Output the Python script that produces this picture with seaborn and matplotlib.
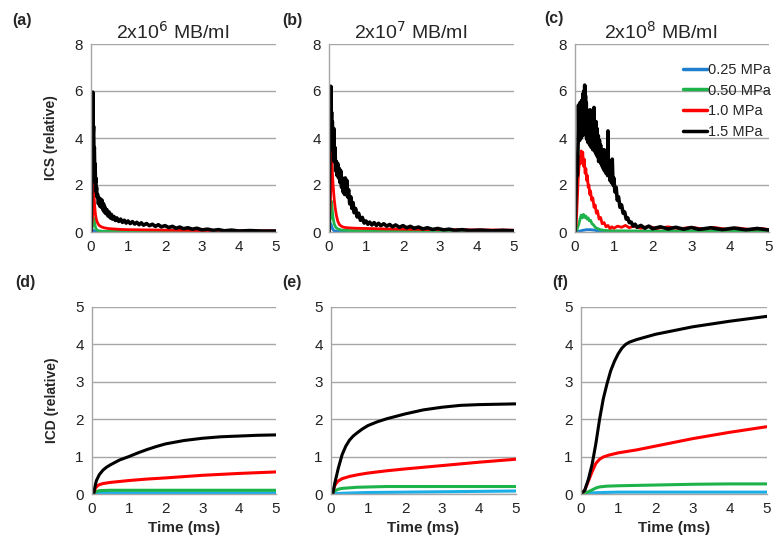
import pandas as pd
import matplotlib
matplotlib.use("Agg")
import matplotlib.pyplot as plt
import seaborn as sns

# -----------------------------
# DATA
# -----------------------------
pressures = ["0.25 MPa", "0.50 MPa", "1.0 MPa", "1.5 MPa"]
titles = ["2x10$^6$ MB/ml", "2x10$^7$ MB/ml", "2x10$^8$ MB/ml"]
panel_tags = ["(a)", "(b)", "(c)", "(d)", "(e)", "(f)"]

# ICS traces, (time ms, relative) pairs
a_blue = [(0, 0), (0.06, 0.08), (0.1, 0.03), (0.3, 0.01), (5, 0.01)]
a_green = [(0, 0), (0.05, 0.3), (0.08, 0.6), (0.10, 0.35), (0.13, 0.15), (0.18, 0.06), (0.3, 0.03), (1, 0.02), (5, 0.02)]
a_red = [(0, 0), (0.05, 0.8), (0.07, 2.05), (0.08, 1.6), (0.10, 1.1), (0.12, 0.75), (0.15, 0.5), (0.18, 0.38),
         (0.22, 0.28), (0.28, 0.22), (0.35, 0.18), (0.45, 0.15), (0.6, 0.13), (0.8, 0.11), (1.0, 0.1),
         (1.5, 0.09), (2.0, 0.08), (3.0, 0.06), (4.0, 0.05), (5.0, 0.05)]
a_black = [(0, 0), (0.03, 3.0), (0.05, 5.95), (0.06, 4.2), (0.07, 4.5), (0.08, 3.3), (0.09, 3.6), (0.10, 2.6),
           (0.11, 2.9), (0.12, 2.1), (0.13, 2.3), (0.14, 1.7), (0.15, 1.9), (0.16, 1.5), (0.18, 1.6), (0.20, 1.2),
           (0.22, 1.45), (0.24, 1.1), (0.26, 1.4), (0.28, 1.05), (0.30, 1.35), (0.32, 0.95), (0.34, 1.2),
           (0.36, 0.85), (0.38, 1.05), (0.40, 0.78), (0.43, 0.95), (0.46, 0.68), (0.49, 0.85), (0.52, 0.6),
           (0.55, 0.75), (0.58, 0.55), (0.62, 0.66), (0.66, 0.49), (0.70, 0.6), (0.75, 0.45), (0.80, 0.55),
           (0.85, 0.41), (0.90, 0.5), (0.95, 0.38), (1.00, 0.47), (1.06, 0.36), (1.12, 0.44), (1.18, 0.34),
           (1.24, 0.41), (1.30, 0.31), (1.36, 0.39), (1.42, 0.29), (1.50, 0.36), (1.58, 0.27), (1.66, 0.33),
           (1.74, 0.24), (1.82, 0.31), (1.90, 0.22), (2.00, 0.27), (2.10, 0.19), (2.20, 0.24), (2.30, 0.16),
           (2.40, 0.21), (2.50, 0.14), (2.62, 0.18), (2.74, 0.12), (2.86, 0.16), (3.00, 0.09), (3.15, 0.12),
           (3.30, 0.07), (3.45, 0.1), (3.60, 0.05), (3.80, 0.08), (4.00, 0.04), (4.30, 0.06), (4.60, 0.04),
           (5.00, 0.04)]

b_blue = [(0, 0), (0.05, 0.35), (0.07, 0.25), (0.1, 0.12), (0.14, 0.05), (0.2, 0.03), (0.4, 0.02), (5, 0.01)]
b_green = [(0, 0), (0.05, 0.8), (0.07, 1.3), (0.09, 0.9), (0.11, 0.6), (0.14, 0.35), (0.18, 0.2), (0.25, 0.12),
           (0.35, 0.08), (0.6, 0.06), (1.0, 0.05), (2, 0.04), (5, 0.03)]
b_red = [(0, 0), (0.04, 1.5), (0.07, 3.4), (0.09, 2.6), (0.11, 2.0), (0.14, 1.4), (0.17, 1.0), (0.20, 0.7),
         (0.24, 0.45), (0.28, 0.32), (0.33, 0.25), (0.4, 0.2), (0.5, 0.18), (0.7, 0.16), (1.0, 0.15),
         (1.5, 0.13), (2.0, 0.12), (3.0, 0.1), (4.0, 0.09), (5.0, 0.08)]
b_black = [(0, 0), (0.03, 4.5), (0.05, 6.2), (0.06, 4.6), (0.07, 5.1), (0.08, 3.8), (0.09, 4.7), (0.10, 3.5),
           (0.11, 4.3), (0.12, 3.6), (0.13, 4.4), (0.14, 3.0), (0.16, 3.6), (0.18, 2.6), (0.20, 3.0), (0.22, 2.4),
           (0.24, 2.9), (0.26, 2.3), (0.28, 2.7), (0.30, 2.1), (0.32, 2.6), (0.34, 1.9), (0.36, 2.3), (0.38, 1.7),
           (0.40, 2.1), (0.42, 1.6), (0.44, 2.3), (0.46, 1.7), (0.48, 2.2), (0.50, 1.5), (0.53, 1.8),
           (0.56, 1.2), (0.59, 1.5), (0.62, 1.0), (0.65, 1.25), (0.68, 0.82), (0.72, 1.0), (0.76, 0.64),
           (0.80, 0.8), (0.85, 0.5), (0.90, 0.62), (0.95, 0.38), (1.00, 0.47), (1.05, 0.33), (1.10, 0.42),
           (1.16, 0.3), (1.22, 0.4), (1.28, 0.28), (1.34, 0.37), (1.40, 0.27), (1.48, 0.35), (1.56, 0.25),
           (1.64, 0.32), (1.72, 0.22), (1.80, 0.3), (1.90, 0.2), (2.00, 0.27), (2.10, 0.18), (2.20, 0.24),
           (2.30, 0.16), (2.42, 0.21), (2.54, 0.13), (2.66, 0.18), (2.80, 0.11), (2.94, 0.15), (3.10, 0.09),
           (3.25, 0.12), (3.40, 0.07), (3.60, 0.1), (3.80, 0.06), (4.10, 0.08), (4.40, 0.05), (4.70, 0.07),
           (5.00, 0.05)]

c_blue = [(0, 0), (0.1, 0.03), (0.2, 0.07), (0.3, 0.1), (0.4, 0.1), (0.5, 0.08), (0.6, 0.04), (0.8, 0.02), (5, 0.01)]
c_green = [(0, 0), (0.05, 0.1), (0.10, 0.35), (0.13, 0.55), (0.16, 0.72), (0.19, 0.6), (0.22, 0.75), (0.25, 0.62),
           (0.28, 0.68), (0.31, 0.55), (0.34, 0.6), (0.37, 0.47), (0.40, 0.5), (0.44, 0.35), (0.48, 0.3),
           (0.52, 0.2), (0.58, 0.15), (0.65, 0.1), (0.75, 0.07), (1.0, 0.05), (2.0, 0.04), (5.0, 0.03)]
c_red = [(0, 0), (0.03, 0.3), (0.06, 1.4), (0.08, 2.2), (0.10, 2.7), (0.12, 3.2), (0.14, 2.9), (0.16, 3.45),
         (0.18, 3.0), (0.20, 3.4), (0.22, 2.8), (0.24, 3.1), (0.26, 2.5), (0.28, 2.7), (0.30, 2.2), (0.32, 2.4),
         (0.34, 1.9), (0.36, 2.0), (0.38, 1.6), (0.40, 1.75), (0.43, 1.35), (0.46, 1.45), (0.49, 1.05),
         (0.52, 1.15), (0.55, 0.8), (0.58, 0.9), (0.62, 0.55), (0.66, 0.62), (0.70, 0.35), (0.75, 0.4),
         (0.80, 0.22), (0.85, 0.28), (0.90, 0.15), (0.95, 0.22), (1.0, 0.16), (1.1, 0.25), (1.2, 0.2),
         (1.3, 0.28), (1.4, 0.18), (1.5, 0.25), (1.7, 0.16), (1.9, 0.24), (2.1, 0.15), (2.4, 0.22), (2.7, 0.14),
         (3.0, 0.2), (3.3, 0.13), (3.6, 0.19), (3.9, 0.12), (4.2, 0.17), (4.5, 0.11), (4.8, 0.15), (5.0, 0.1)]
c_black = [(0, 0), (0.02, 1.5), (0.04, 2.8), (0.06, 2.4), (0.08, 3.8), (0.09, 5.4), (0.10, 4.2), (0.11, 5.1),
           (0.12, 3.9), (0.13, 5.5), (0.14, 4.4), (0.15, 5.2), (0.16, 4.0), (0.17, 5.6), (0.18, 4.3), (0.19, 5.4),
           (0.20, 4.1), (0.21, 5.9), (0.22, 4.6), (0.23, 6.0), (0.24, 4.5), (0.25, 6.25), (0.26, 4.8), (0.27, 5.8),
           (0.28, 4.2), (0.29, 5.5), (0.30, 4.0), (0.31, 5.2), (0.32, 3.9), (0.33, 5.0), (0.34, 3.8), (0.35, 5.1),
           (0.36, 4.0), (0.37, 4.8), (0.38, 3.7), (0.39, 5.2), (0.40, 3.9), (0.41, 4.6), (0.42, 3.6), (0.43, 5.1),
           (0.44, 3.8), (0.45, 4.5), (0.46, 3.5), (0.47, 4.9), (0.48, 3.7), (0.49, 5.3), (0.50, 3.6), (0.51, 4.6),
           (0.52, 3.4), (0.54, 4.7), (0.55, 3.3), (0.57, 4.4), (0.58, 3.2), (0.60, 4.1), (0.61, 3.0), (0.63, 3.9),
           (0.64, 3.0), (0.66, 3.7), (0.67, 2.9), (0.69, 3.5), (0.70, 2.8), (0.72, 3.3), (0.73, 2.7), (0.75, 3.5),
           (0.76, 2.6), (0.78, 3.1), (0.80, 2.5), (0.82, 3.0), (0.84, 2.4), (0.85, 4.3), (0.86, 2.6), (0.88, 2.9),
           (0.90, 2.2), (0.92, 2.6), (0.94, 2.1), (0.96, 3.1), (0.98, 2.0), (1.00, 2.3), (1.03, 1.7), (1.06, 1.9),
           (1.09, 1.35), (1.12, 1.5), (1.16, 1.05), (1.20, 1.15), (1.24, 0.8), (1.28, 0.85), (1.32, 0.55),
           (1.36, 0.6), (1.40, 0.4), (1.45, 0.42), (1.50, 0.25), (1.55, 0.33), (1.60, 0.2), (1.70, 0.28),
           (1.80, 0.16), (1.90, 0.25), (2.0, 0.14), (2.2, 0.22), (2.4, 0.13), (2.6, 0.2), (2.8, 0.12), (3.0, 0.19),
           (3.2, 0.11), (3.5, 0.18), (3.8, 0.1), (4.1, 0.17), (4.4, 0.09), (4.7, 0.15), (5.0, 0.08)]

# ICD traces
d_blue = [(0, 0), (0.2, 0.03), (1, 0.03), (5, 0.03)]
d_green = [(0, 0), (0.1, 0.06), (0.2, 0.09), (0.5, 0.1), (5, 0.1)]
d_red = [(0, 0), (0.05, 0.05), (0.1, 0.17), (0.15, 0.22), (0.2, 0.25), (0.3, 0.28), (0.5, 0.31), (1.0, 0.36),
         (1.5, 0.4), (2.0, 0.43), (3.0, 0.5), (4.0, 0.55), (5.0, 0.59)]
d_black = [(0, 0), (0.05, 0.02), (0.08, 0.2), (0.12, 0.36), (0.2, 0.52), (0.3, 0.64), (0.4, 0.72), (0.5, 0.78),
           (0.75, 0.91), (1.0, 1.0), (1.25, 1.1), (1.5, 1.19), (1.75, 1.27), (2.0, 1.34), (2.5, 1.43),
           (3.0, 1.49), (3.5, 1.53), (4.0, 1.55), (4.5, 1.57), (5.0, 1.58)]

e_blue = [(0, 0), (0.3, 0.02), (1, 0.04), (3, 0.06), (5, 0.08)]
e_green = [(0, 0), (0.1, 0.08), (0.2, 0.13), (0.3, 0.15), (0.7, 0.18), (1.5, 0.2), (5, 0.2)]
e_red = [(0, 0), (0.05, 0.05), (0.1, 0.22), (0.15, 0.3), (0.2, 0.35), (0.3, 0.41), (0.5, 0.47), (0.75, 0.52),
         (1.0, 0.56), (1.5, 0.62), (2.0, 0.67), (3.0, 0.76), (4.0, 0.85), (5.0, 0.93)]
e_black = [(0, 0), (0.05, 0.02), (0.1, 0.28), (0.2, 0.7), (0.3, 1.05), (0.4, 1.28), (0.5, 1.44), (0.6, 1.55),
           (0.7, 1.63), (0.85, 1.74), (1.0, 1.83), (1.25, 1.93), (1.5, 2.01), (2.0, 2.14), (2.5, 2.25),
           (3.0, 2.32), (3.5, 2.37), (4.0, 2.39), (4.5, 2.4), (5.0, 2.41)]

f_blue = [(0, 0), (0.3, 0.03), (0.6, 0.04), (1, 0.05), (5, 0.05)]
f_green = [(0, 0), (0.2, 0.06), (0.3, 0.11), (0.4, 0.16), (0.5, 0.19), (0.7, 0.21), (1, 0.22), (2, 0.24),
           (3, 0.26), (4, 0.27), (5, 0.27)]
f_red = [(0, 0), (0.1, 0.1), (0.2, 0.35), (0.3, 0.6), (0.4, 0.82), (0.5, 0.93), (0.6, 0.99), (0.75, 1.04),
         (1.0, 1.1), (1.5, 1.18), (2.0, 1.28), (3.0, 1.48), (4.0, 1.65), (5.0, 1.8)]
f_black = [(0, 0), (0.1, 0.1), (0.2, 0.4), (0.3, 0.8), (0.4, 1.35), (0.5, 2.0), (0.6, 2.55), (0.7, 2.95),
           (0.8, 3.3), (0.9, 3.55), (1.0, 3.75), (1.1, 3.9), (1.2, 4.0), (1.3, 4.06), (1.5, 4.13), (2.0, 4.27),
           (3.0, 4.47), (4.0, 4.62), (5.0, 4.75)]

ics_sets = [[a_blue, a_green, a_red, a_black],
            [b_blue, b_green, b_red, b_black],
            [c_blue, c_green, c_red, c_black]]
icd_sets = [[d_blue, d_green, d_red, d_black],
            [e_blue, e_green, e_red, e_black],
            [f_blue, f_green, f_red, f_black]]


def to_frame(series):
    rows = []
    for name, pts in zip(pressures, series):
        for t, v in pts:
            rows.append({"time": t, "value": v, "pressure": name})
    return pd.DataFrame(rows)


# -----------------------------
# STYLE
# -----------------------------
sns.set_style("white")
plt.rcParams['font.family'] = ['Liberation Sans', 'DejaVu Sans']

top_colors = ["#1f7fcf", "#1db34a", "#ff0000", "#000000"]
bot_colors = ["#1aaee8", "#1db34a", "#ff0000", "#000000"]
grid_col = "#a6a6a6"

fig = plt.figure(figsize=(7.75, 5.42), dpi=100)
W, H = 775.0, 542.0

# axes boxes in pixels: left, right, top, bottom
top_boxes = [(91, 276, 44, 232), (329, 514, 44, 232), (575, 769, 44, 232)]
bot_boxes = [(92, 276, 307, 494), (331, 516, 307, 494), (581, 767, 307, 494)]


def make_ax(box):
    l, r, t, b = box
    return fig.add_axes([l / W, 1 - b / H, (r - l) / W, (b - t) / H])


def style_ax(ax, ymax, ystep):
    ax.set_xlim(0, 5)
    ax.set_ylim(0, ymax)
    ax.set_xticks(range(0, 6))
    ax.set_yticks(range(0, ymax + 1, ystep))
    ax.yaxis.grid(True, color=grid_col, linewidth=1)
    ax.set_axisbelow(True)
    for s in ["top", "right"]:
        ax.spines[s].set_visible(False)
    for s in ["left", "bottom"]:
        ax.spines[s].set_color(grid_col)
        ax.spines[s].set_linewidth(1)
    ax.tick_params(axis="both", direction="out", length=4, width=1, color=grid_col,
                   labelsize=11, labelcolor="#222222", pad=2)
    ax.set_xlabel("")
    ax.set_ylabel("")


# Top row: ICS
for i, (box, series) in enumerate(zip(top_boxes, ics_sets)):
    ax = make_ax(box)
    df = to_frame(series)
    sns.lineplot(data=df, x="time", y="value", hue="pressure", hue_order=pressures,
                 palette=top_colors, estimator=None, sort=False, linewidth=2.0,
                 legend=(i == 2), ax=ax)
    # the noisy 1.5 MPa trace reads as a thick band
    ax.lines[3].set_linewidth(2.6)
    style_ax(ax, 8, 2)
    if i == 0:
        ax.set_ylabel("ICS (relative)", fontsize=10, fontweight="bold")
        ax.yaxis.set_label_coords(-0.18, 0.5)
    if i == 2:
        leg = ax.legend(frameon=False, loc="upper right", bbox_to_anchor=(1.04, 0.93),
                        fontsize=10.5, handlelength=1.6, handletextpad=0.1, labelspacing=0.45,
                        borderaxespad=0)
        for line in leg.get_lines():
            line.set_linewidth(2.5)
    l, r, t, b = box
    fig.text((l + r) / 2 / W - 11 / W, 1 - 32 / H, titles[i], fontsize=14,
             ha="center", va="center")

# Bottom row: ICD
for i, (box, series) in enumerate(zip(bot_boxes, icd_sets)):
    ax = make_ax(box)
    df = to_frame(series)
    sns.lineplot(data=df, x="time", y="value", hue="pressure", hue_order=pressures,
                 palette=bot_colors, estimator=None, sort=False, linewidth=2.2,
                 legend=False, ax=ax)
    style_ax(ax, 5, 1)
    ax.set_xlabel("Time (ms)", fontsize=11, fontweight="bold")
    ax.xaxis.set_label_coords(0.5, -0.145)
    if i == 0:
        ax.set_ylabel("ICD (relative)", fontsize=10, fontweight="bold")
        ax.yaxis.set_label_coords(-0.18, 0.5)

# Panel tags
tag_pos = [(22, 20), (292, 20), (554, 18), (25, 283), (292, 283), (560, 283)]
for tag, (x, y) in zip(panel_tags, tag_pos):
    fig.text(x / W, 1 - y / H, tag, fontsize=11.5, fontweight="bold", ha="center", va="center")

plt.savefig("out.png", dpi=100)
